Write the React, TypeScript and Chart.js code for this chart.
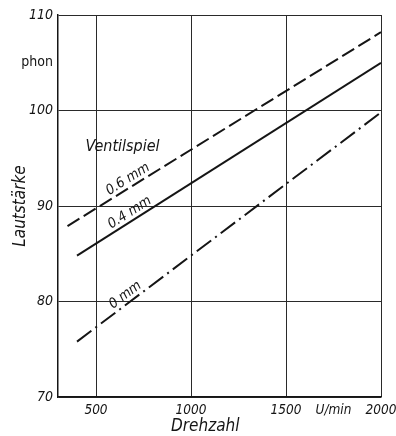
import React, { useEffect, useRef } from "react";
import { Chart, registerables } from "chart.js";

Chart.register(...registerables);

// Series: valve clearance (Ventilspiel) -> loudness (phon) vs engine speed (U/min)
const seriesNames = ["0.6 mm", "0.4 mm", "0 mm"];
const rpm06 = [350, 2000];
const phon06 = [87.9, 108.2];
const rpm04 = [400, 2000];
const phon04 = [84.8, 105.0];
const rpm00 = [400, 2000];
const phon00 = [75.8, 99.8];
const labelRpm = [690, 700, 680];

// Axis ticks
const xTickValues = [500, 1000, 1500, 1750, 2000];
const xTickLabels = ["500", "1000", "1500", "U/min", "2000"];
const yTickValues = [70, 80, 90, 100, 105, 110];
const yTickLabels = ["70", "80", "90", "100", "phon", "110"];

const xTitle = "Drehzahl";
const yTitle = "Lautstärke";
const groupTitle = "Ventilspiel";
const groupTitlePos = [640, 96.2];
const xTitleRpm = 1075;

const FONT = "'Liberation Sans Narrow', 'DejaVu Sans Condensed', 'DejaVu Sans', sans-serif";
const INK = "#151515";

const pts = (xs: number[], ys: number[]) => xs.map((x, i) => ({ x, y: ys[i] }));

export default function App() {
  const ref = useRef<HTMLCanvasElement | null>(null);

  useEffect(() => {
    document.body.style.margin = "0";
    const canvas = ref.current;
    if (!canvas) return;

    const labelPlugin = {
      id: "labels",
      afterDatasetsDraw(chart: any) {
        const { ctx, scales } = chart;
        const xs = scales.x;
        const ys = scales.y;
        ctx.save();
        ctx.fillStyle = INK;
        chart.data.datasets.forEach((ds: any, i: number) => {
          const d = ds.data;
          const a = d[0];
          const b = d[d.length - 1];
          const x1 = xs.getPixelForValue(a.x);
          const y1 = ys.getPixelForValue(a.y);
          const x2 = xs.getPixelForValue(b.x);
          const y2 = ys.getPixelForValue(b.y);
          const ang = Math.atan2(y2 - y1, x2 - x1);
          const r = labelRpm[i];
          const v = a.y + ((b.y - a.y) * (r - a.x)) / (b.x - a.x);
          const px = xs.getPixelForValue(r);
          const py = ys.getPixelForValue(v);
          ctx.save();
          ctx.translate(px, py);
          ctx.rotate(ang);
          ctx.font = `italic 14px ${FONT}`;
          ctx.textAlign = "center";
          ctx.textBaseline = "bottom";
          ctx.fillText(seriesNames[i], 0, -1);
          ctx.restore();
        });
        ctx.font = `italic 16px ${FONT}`;
        ctx.textAlign = "center";
        ctx.textBaseline = "middle";
        ctx.fillText(
          groupTitle,
          xs.getPixelForValue(groupTitlePos[0]),
          ys.getPixelForValue(groupTitlePos[1])
        );
        ctx.font = `italic 17px ${FONT}`;
        ctx.fillText(xTitle, xs.getPixelForValue(xTitleRpm), chart.chartArea.bottom + 30);
        ctx.restore();
      },
    };

    const xTickFont = { family: FONT, size: 13.5, style: "italic" as const };
    const yTickFont = { family: FONT, size: 14, style: "italic" as const };

    const chart = new Chart(canvas, {
      type: "line",
      data: {
        datasets: [
          {
            label: seriesNames[0],
            data: pts(rpm06, phon06),
            borderColor: INK,
            borderWidth: 2,
            borderDash: [14, 5],
            pointRadius: 0,
          },
          {
            label: seriesNames[1],
            data: pts(rpm04, phon04),
            borderColor: INK,
            borderWidth: 2,
            pointRadius: 0,
          },
          {
            label: seriesNames[2],
            data: pts(rpm00, phon00),
            borderColor: INK,
            borderWidth: 2,
            borderDash: [18, 5, 2, 5],
            pointRadius: 0,
          },
        ],
      },
      options: {
        responsive: false,
        animation: false,
        layout: { padding: { top: 15, right: 15, left: 0, bottom: 0 } },
        plugins: {
          legend: { display: false },
          tooltip: { enabled: false },
        },
        scales: {
          x: {
            type: "linear",
            min: 300,
            max: 2000,
            afterBuildTicks: (s: any) => {
              s.ticks = xTickValues.map((v) => ({ value: v }));
            },
            afterFit: (s: any) => {
              s.height = 39;
              s.paddingLeft = 0;
              s.paddingRight = 0;
            },
            ticks: {
              autoSkip: false,
              maxRotation: 0,
              padding: 5,
              color: INK,
              font: xTickFont,
              callback: (v: any) => {
                const i = xTickValues.indexOf(Number(v));
                return i >= 0 ? xTickLabels[i] : "";
              },
            },
            grid: {
              drawTicks: false,
              lineWidth: 1,
              color: (c: any) =>
                c.tick && c.tick.value === 1750 ? "rgba(0,0,0,0)" : "#2a2a2a",
            },
            border: { color: INK, width: 1.5 },
          },
          y: {
            type: "linear",
            min: 70,
            max: 110,
            afterBuildTicks: (s: any) => {
              s.ticks = yTickValues.map((v) => ({ value: v }));
            },
            afterFit: (s: any) => {
              s.width = 58;
              s.paddingTop = 0;
              s.paddingBottom = 0;
            },
            ticks: {
              autoSkip: false,
              padding: 5,
              color: INK,
              font: (c: any) =>
                c.tick && c.tick.value === 105
                  ? { family: FONT, size: 14, style: "normal" }
                  : yTickFont,
              callback: (v: any) => {
                const i = yTickValues.indexOf(Number(v));
                return i >= 0 ? yTickLabels[i] : "";
              },
            },
            grid: {
              drawTicks: false,
              lineWidth: 1,
              color: (c: any) =>
                c.tick && c.tick.value === 105 ? "rgba(0,0,0,0)" : "#2a2a2a",
            },
            border: { color: INK, width: 1.5 },
            title: {
              display: true,
              text: yTitle,
              color: INK,
              font: { family: FONT, size: 17, style: "italic" },
              padding: { top: 10, bottom: 0 },
            },
          },
        },
      },
      plugins: [labelPlugin],
    });

    return () => chart.destroy();
  }, []);

  return (
    <div style={{ width: 396, height: 436 }}>
      <canvas ref={ref} width={396} height={436} style={{ display: "block" }} />
    </div>
  );
}
